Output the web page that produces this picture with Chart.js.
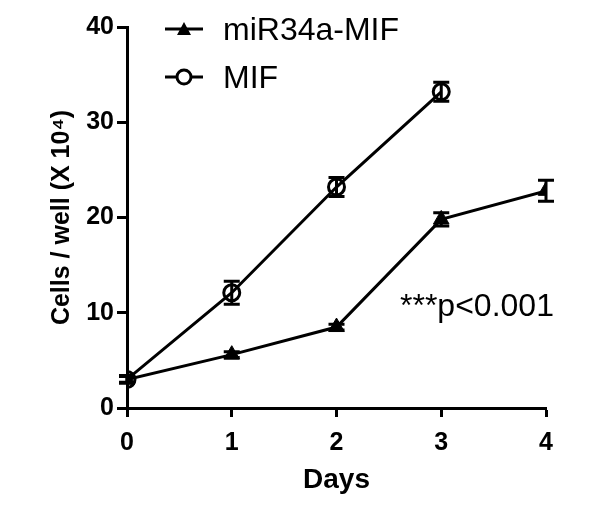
<!DOCTYPE html>
<html>
<head>
<meta charset="utf-8">
<script src="https://cdn.jsdelivr.net/npm/chart.js@4"></script>
<style>
  html, body { margin: 0; padding: 0; background: #fff; }
  #wrap { width: 600px; height: 513px; }
</style>
</head>
<body>
<div id="wrap"><canvas id="growth"></canvas></div>
<script>
const days = [0, 1, 2, 3, 4];
const mirMean = [3.0, 5.6, 8.5, 19.8, 22.8];
const mirErr = [0.3, 0.3, 0.3, 0.7, 1.1];
const mifDays = [0, 1, 2, 3];
const mifMean = [3.0, 12.1, 23.2, 33.2];
const mifErr = [0.4, 1.2, 1.0, 1.0];
const yTicks = [0, 10, 20, 30, 40];
const legendLabels = ['miR34a-MIF', 'MIF'];
const note = '***p<0.001';

const FONT = '"Liberation Sans", Arial, sans-serif';

const errorBars = {
  id: 'errorBars',
  beforeDatasetsDraw(chart) {
    const { ctx, scales: { x, y } } = chart;
    ctx.save();
    ctx.strokeStyle = '#000';
    ctx.lineWidth = 3;
    chart.data.datasets.forEach(ds => {
      ds.data.forEach((p, i) => {
        const e = ds.err[i];
        const px = x.getPixelForValue(p.x);
        const top = y.getPixelForValue(p.y + e);
        const bot = y.getPixelForValue(p.y - e);
        ctx.beginPath();
        ctx.moveTo(px, top); ctx.lineTo(px, bot);
        ctx.moveTo(px - 8, top); ctx.lineTo(px + 8, top);
        ctx.moveTo(px - 8, bot); ctx.lineTo(px + 8, bot);
        ctx.stroke();
      });
    });
    ctx.restore();
  },
  afterDraw(chart) {
    const { ctx } = chart;
    ctx.save();
    ctx.strokeStyle = '#000';
    ctx.fillStyle = '#000';
    ctx.lineWidth = 3;
    // legend rows
    const rows = [29, 77];
    rows.forEach((ly, i) => {
      ctx.beginPath();
      ctx.moveTo(165, ly); ctx.lineTo(203, ly);
      ctx.stroke();
      if (i === 0) {
        ctx.beginPath();
        ctx.moveTo(184, ly - 7); ctx.lineTo(191, ly + 6); ctx.lineTo(177, ly + 6);
        ctx.closePath();
        ctx.fill();
      } else {
        ctx.beginPath();
        ctx.arc(184, ly, 7, 0, Math.PI * 2);
        ctx.fillStyle = '#fff';
        ctx.fill();
        ctx.stroke();
        ctx.fillStyle = '#000';
      }
      ctx.font = '32px ' + FONT;
      ctx.textBaseline = 'middle';
      ctx.textAlign = 'left';
      ctx.fillText(legendLabels[i], 223, ly + 2);
    });
    ctx.font = '32px ' + FONT;
    ctx.textBaseline = 'middle';
    ctx.fillText(note, 400, 307);
    ctx.restore();
  }
};

new Chart(document.getElementById('growth').getContext('2d'), {
  type: 'line',
  data: {
    datasets: [
      {
        label: legendLabels[0],
        data: days.map((d, i) => ({ x: d, y: mirMean[i] })),
        err: mirErr,
        borderColor: '#000',
        backgroundColor: '#000',
        borderWidth: 3,
        pointStyle: 'triangle',
        pointRadius: 9,
        pointBorderWidth: 1,
        tension: 0
      },
      {
        label: legendLabels[1],
        data: mifDays.map((d, i) => ({ x: d, y: mifMean[i] })),
        err: mifErr,
        borderColor: '#000',
        backgroundColor: 'rgba(0,0,0,0)',
        borderWidth: 3,
        pointStyle: 'circle',
        pointRadius: 8,
        pointBorderWidth: 3,
        tension: 0
      }
    ]
  },
  options: {
    responsive: true,
    maintainAspectRatio: false,
    animation: false,
    layout: { padding: { left: 43, right: 54, top: 27, bottom: 12 } },
    plugins: { legend: { display: false }, tooltip: { enabled: false } },
    scales: {
      x: {
        type: 'linear',
        min: 0, max: 4,
        afterFit: s => { s.height = 93; },
        border: { display: true, color: '#000', width: 3 },
        grid: { drawOnChartArea: false, drawTicks: true, tickLength: 9, tickColor: '#000', tickWidth: 3 },
        ticks: { stepSize: 1, color: '#000', padding: 11, font: { family: FONT, size: 25, weight: 'bold' } },
        title: { display: true, text: 'Days', color: '#000', padding: { top: 4, bottom: 4 }, font: { family: FONT, size: 28, weight: 'bold' } }
      },
      y: {
        min: 0, max: 40,
        afterFit: s => { s.width = 84; },
        afterBuildTicks: s => { s.ticks = yTicks.map(v => ({ value: v })); },
        border: { display: true, color: '#000', width: 3 },
        grid: { drawOnChartArea: false, drawTicks: true, tickLength: 10, tickColor: '#000', tickWidth: 3 },
        ticks: { color: '#000', padding: 3, font: { family: FONT, size: 25, weight: 'bold' } },
        title: { display: true, text: 'Cells / well (X 10\u2074)', color: '#000', padding: { top: 4, bottom: 0 }, font: { family: FONT, size: 25, weight: 'bold' } }
      }
    }
  },
  plugins: [errorBars]
});
</script>
</body>
</html>
